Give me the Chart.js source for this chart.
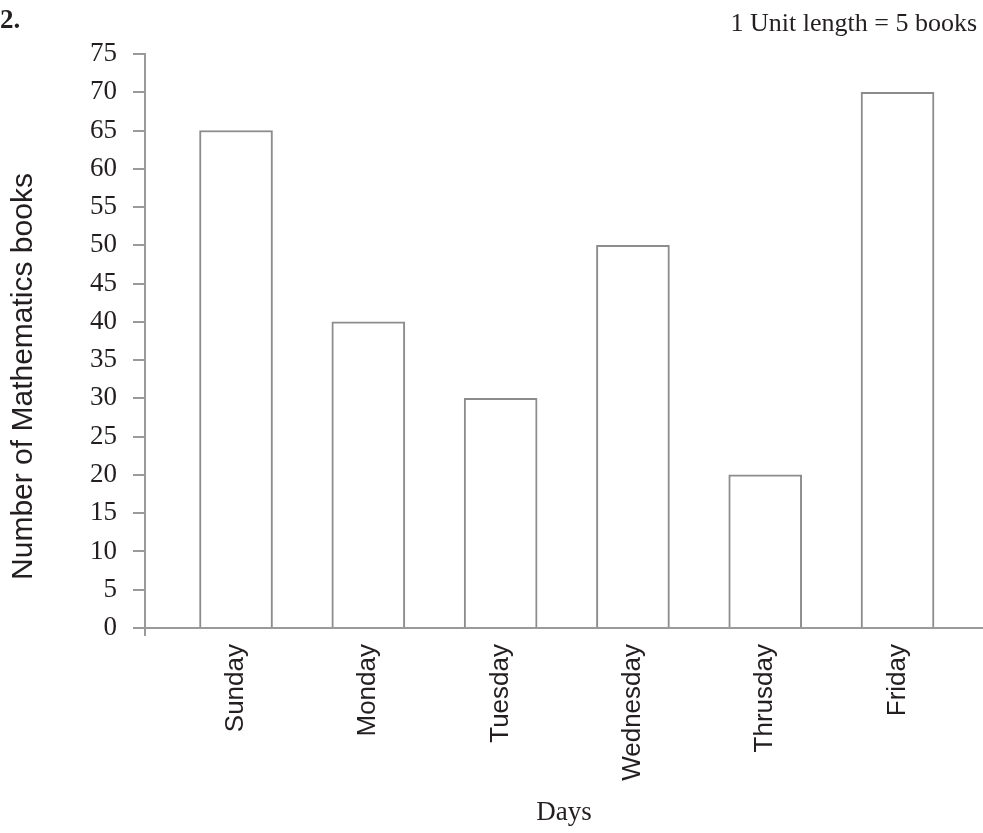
<!DOCTYPE html>
<html>
<head>
<meta charset="utf-8">
<script src="https://cdn.jsdelivr.net/npm/chart.js@4"></script>
<style>
  html, body { margin: 0; padding: 0; background: #ffffff; }
  #wrap { width: 983px; height: 833px; position: relative; }
</style>
</head>
<body>
<div id="wrap"><canvas id="c" width="983" height="833"></canvas></div>
<script>
// ---- data ----
const days = ["Sunday", "Monday", "Tuesday", "Wednesday", "Thrusday", "Friday"];
const books = [65, 40, 30, 50, 20, 70];
const yTicks = [0, 5, 10, 15, 20, 25, 30, 35, 40, 45, 50, 55, 60, 65, 70, 75];
const questionLabel = "2.";
const unitNote = "1 Unit length = 5 books";
const yTitle = "Number of Mathematics books";
const xTitle = "Days";

const TEXT = "#231f20";
const AXIS = "#9a9a9a";
const BAR = "#8c8c8c";
const SERIF = "'Liberation Serif', 'Times New Roman', serif";
const SANS = "'Liberation Sans', Arial, sans-serif";

const X_MIN = -0.688, X_MAX = 5.646;

const annotations = {
  id: "annotations",
  afterDraw(chart) {
    const ctx = chart.ctx;
    ctx.save();
    ctx.fillStyle = TEXT;
    ctx.font = "bold 27px " + SERIF;
    ctx.textAlign = "left";
    ctx.textBaseline = "alphabetic";
    ctx.fillText(questionLabel, 0, 28);
    ctx.font = "26px " + SERIF;
    ctx.textAlign = "right";
    ctx.fillText(unitNote, 977, 31);
    ctx.translate(24, 376.5);
    ctx.rotate(-Math.PI / 2);
    ctx.font = "30px " + SANS;
    ctx.textAlign = "center";
    ctx.textBaseline = "middle";
    ctx.fillText(yTitle, 0, 0);
    ctx.restore();
  }
};

new Chart(document.getElementById("c"), {
  type: "bar",
  data: {
    datasets: [{
      data: days.map((d, i) => ({ x: i, y: books[i] })),
      backgroundColor: "#ffffff",
      borderColor: BAR,
      borderWidth: 2,
      barThickness: 73
    }]
  },
  options: {
    responsive: false,
    animation: false,
    layout: { padding: { top: 54, right: 0, bottom: 0, left: 0 } },
    plugins: { legend: { display: false }, tooltip: { enabled: false } },
    scales: {
      x: {
        type: "linear",
        offset: false,
        min: X_MIN,
        max: X_MAX,
        afterBuildTicks(scale) {
          scale.ticks = [{ value: X_MIN }].concat(days.map((d, i) => ({ value: i })));
        },
        afterFit(scale) { scale.height = 833 - 628; },
        ticks: {
          autoSkip: false,
          minRotation: 90,
          maxRotation: 90,
          padding: 8,
          color: TEXT,
          font: { family: SANS, size: 26 },
          callback: (v) => (Number.isInteger(v) && days[v] !== undefined) ? days[v] : ""
        },
        grid: {
          offset: false,
          drawOnChartArea: false,
          drawTicks: true,
          tickLength: 8,
          lineWidth: 2,
          color: (ctx) => (ctx.index === 0 ? AXIS : "rgba(0,0,0,0)")
        },
        border: { display: true, color: AXIS, width: 2 },
        title: {
          display: true,
          text: xTitle,
          color: TEXT,
          font: { family: SERIF, size: 27 },
          padding: { top: 4, bottom: 4 }
        }
      },
      y: {
        min: 0,
        max: 75,
        afterBuildTicks(scale) {
          scale.ticks = yTicks.map(v => ({ value: v }));
        },
        afterFit(scale) { scale.width = 145; },
        ticks: {
          padding: 16,
          color: TEXT,
          font: { family: SERIF, size: 27 }
        },
        grid: {
          drawOnChartArea: false,
          drawTicks: true,
          tickLength: 12,
          lineWidth: 2,
          color: AXIS
        },
        border: { display: true, color: AXIS, width: 2 }
      }
    }
  },
  plugins: [annotations]
});
</script>
</body>
</html>
